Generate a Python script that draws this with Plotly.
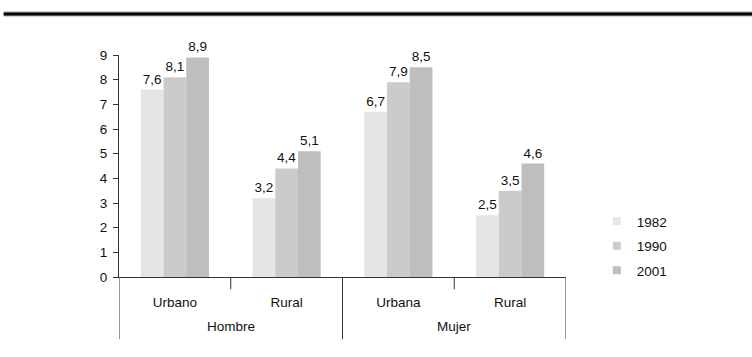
import plotly.graph_objects as go

# Population groups (outer level: sex, inner level: area)
sexo = ["Hombre", "Hombre", "Mujer", "Mujer"]
area = ["Urbano", "Rural", "Urbana", "Rural"]

years = ["1982", "1990", "2001"]
valores_1982 = [7.6, 3.2, 6.7, 2.5]
valores_1990 = [8.1, 4.4, 7.9, 3.5]
valores_2001 = [8.9, 5.1, 8.5, 4.6]

y_ticks = list(range(0, 10))

colors = ["#e5e5e5", "#cbcbcb", "#bebebe"]
series = [valores_1982, valores_1990, valores_2001]

pos = list(range(len(area)))
axis_col = "#333333"
txt_col = "#111111"
fs = 13.5

fig = go.Figure()
for name, vals, col in zip(years, series, colors):
    fig.add_trace(go.Bar(
        x=pos, y=vals, name=name,
        marker=dict(color=col, line=dict(width=0)),
        texttemplate="%{y:.1f}", textposition="outside",
        textfont=dict(size=fs, color=txt_col, family="Liberation Sans, Arial, sans-serif"),
        cliponaxis=False, showlegend=False,
        customdata=sexo, text=area,
        hovertemplate="%{customdata} %{text}: %{y:.1f}<extra>" + name + "</extra>",
    ))
    # small square legend entries
    fig.add_trace(go.Scatter(
        x=[None], y=[None], mode="markers", name=name,
        marker=dict(symbol="square", size=8, color=col),
        legendgroup=name, showlegend=True,
    ))

fig.update_layout(
    width=752, height=357,
    margin=dict(l=119, r=186, t=55, b=80),
    paper_bgcolor="white", plot_bgcolor="white",
    separators=",.",
    barmode="group", bargap=0.39, bargroupgap=0,
    font=dict(family="Liberation Sans, Arial, sans-serif", size=fs, color=txt_col),
    legend=dict(x=1.069, y=0.32, xanchor="left", yanchor="top",
                font=dict(size=fs, color=txt_col), tracegroupgap=4,
                itemwidth=30, bgcolor="rgba(0,0,0,0)"),
)
fig.update_yaxes(
    range=[0, 9], tickvals=y_ticks, showgrid=False, zeroline=False,
    showline=True, linecolor=axis_col, linewidth=1,
    ticks="outside", ticklen=5, tickcolor=axis_col, ticklabelstandoff=3,
    tickfont=dict(size=fs),
)
fig.update_xaxes(
    range=[pos[0] - 0.5, pos[-1] + 0.5],
    tickvals=pos, ticktext=area, ticks="",
    ticklabelstandoff=13,
    showgrid=False, zeroline=False, showline=True, linecolor=axis_col, linewidth=1,
    tickfont=dict(size=fs),
)

# group boundaries below the axis: long at sex boundaries, short between areas
bounds = [p - 0.5 for p in pos] + [pos[-1] + 0.5]
for i, b in enumerate(bounds):
    left = sexo[i - 1] if i > 0 else None
    right = sexo[i] if i < len(sexo) else None
    long_line = left != right
    fig.add_shape(type="line", xref="x", yref="paper",
                  x0=b, x1=b, y0=0, y1=-0.28 if long_line else -0.055,
                  line=dict(color=axis_col, width=1))

# outer labels centred under each sex group
for s in dict.fromkeys(sexo):
    members = [p for p, g in zip(pos, sexo) if g == s]
    fig.add_annotation(x=sum(members) / len(members), xref="x",
                       y=-0.225, yref="paper", text=s, showarrow=False,
                       yanchor="middle", font=dict(size=fs, color=txt_col))

# heavy rule across the top of the page
fig.add_shape(type="line", xref="paper", yref="paper",
              x0=-0.258, x1=1.42, y0=1.185, y1=1.185,
              line=dict(color="#aaaaaa", width=5))
fig.add_shape(type="line", xref="paper", yref="paper",
              x0=-0.258, x1=1.42, y0=1.185, y1=1.185,
              line=dict(color="#000000", width=3))

fig.write_html("out.html")
